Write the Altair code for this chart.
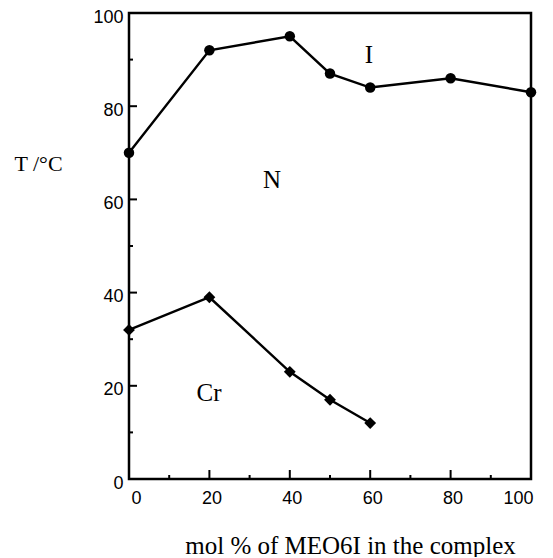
import altair as alt
import pandas as pd

# Isotropization (I) line: mol % vs T
x_i = [0, 20, 40, 50, 60, 80, 100]
t_i = [70, 92, 95, 87, 84, 86, 83]
# Crystallization (Cr) line
x_cr = [0, 20, 40, 50, 60]
t_cr = [32, 39, 23, 17, 12]

# phase labels
lab_text = ["I", "N", "Cr"]
lab_x = [59.7, 35.6, 19.9]
lab_y = [91.0, 64.2, 18.5]

# ticks
major_ticks = [20, 40, 60, 80]
minor_ticks = [10, 30, 50, 70, 90]
tick_labels = [0, 20, 40, 60, 80, 100]

W, H = 402, 466

df_i = pd.DataFrame({"x": x_i, "t": t_i})
df_cr = pd.DataFrame({"x": x_cr, "t": t_cr})
df_lab = pd.DataFrame({"x": lab_x, "t": lab_y, "txt": lab_text})
df_maj = pd.DataFrame({"x": major_ticks, "t": major_ticks})
df_min = pd.DataFrame({"x": minor_ticks, "t": minor_ticks})

xs = alt.Scale(domain=[0, 100], nice=False, zero=False)
ys = alt.Scale(domain=[0, 100], nice=False, zero=False)

x_axis = alt.Axis(values=tick_labels, labelPadding=10, labelOffset=2,
                  labelFont="Liberation Sans", labelFontSize=18, labelColor="black",
                  title="mol % of MEO6I in the complex",
                  titleFont="Liberation Serif", titleFontWeight="normal", titleColor="black",
                  titleFontSize=25, titleX=221, titleY=74, titleAlign="center",
                  titleBaseline="alphabetic")
y_axis = alt.Axis(values=tick_labels, labelPadding=6, labelOffset=4,
                  labelFont="Liberation Sans", labelFontSize=18, labelColor="black",
                  title="T /°C",
                  titleFont="Liberation Serif", titleFontWeight="normal", titleColor="black",
                  titleFontSize=22, titleAngle=0, titleX=-91, titleY=157,
                  titleAlign="center", titleBaseline="alphabetic")

X = alt.X("x:Q", scale=xs)
Y = alt.Y("t:Q", scale=ys)

line_i = alt.Chart(df_i).mark_line(color="black", strokeWidth=2.4).encode(
    x=alt.X("x:Q", scale=xs, axis=x_axis),
    y=alt.Y("t:Q", scale=ys, axis=y_axis),
)
pts_i = alt.Chart(df_i).mark_point(shape="circle", filled=True, color="black", size=110, opacity=1).encode(
    x=X, y=Y)
line_cr = alt.Chart(df_cr).mark_line(color="black", strokeWidth=2.4).encode(x=X, y=Y)
pts_cr = alt.Chart(df_cr).mark_point(shape="diamond", filled=True, color="black", size=140, opacity=1).encode(
    x=X, y=Y)
labels = alt.Chart(df_lab).mark_text(font="Liberation Serif", fontSize=25, color="black",
                                     align="center", baseline="middle").encode(
    x=X, y=Y, text="txt:N")

xmaj = alt.Chart(df_maj).mark_rule(color="black", strokeWidth=2).encode(
    x=X, y=alt.value(H), y2=alt.value(H - 9))
xmin = alt.Chart(df_min).mark_rule(color="black", strokeWidth=2).encode(
    x=X, y=alt.value(H), y2=alt.value(H - 4))
ymaj = alt.Chart(df_maj).mark_rule(color="black", strokeWidth=2).encode(
    y=Y, x=alt.value(0), x2=alt.value(8))
ymin = alt.Chart(df_min).mark_rule(color="black", strokeWidth=2).encode(
    y=Y, x=alt.value(0), x2=alt.value(4))

chart = alt.layer(line_i, line_cr, pts_i, pts_cr, labels, xmaj, xmin, ymaj, ymin).properties(
    width=W, height=H,
    autosize=alt.AutoSizeParams(type="none"),
    padding={"left": 121, "top": 5, "right": 10, "bottom": 78},
    background="white",
).configure_view(stroke="black", strokeWidth=2.5).configure_axis(
    ticks=False, tickSize=0, domain=False, grid=False,
)

chart.save("out.html", embed_options={"renderer": "svg", "actions": False})
